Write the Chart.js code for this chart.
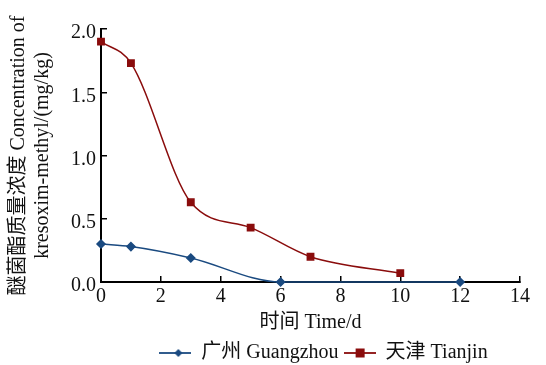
<!DOCTYPE html>
<html>
<head>
<meta charset="utf-8">
<script src="https://cdn.jsdelivr.net/npm/chart.js@4.4.0/dist/chart.umd.min.js"></script>
<style>
  html, body { margin: 0; padding: 0; background: #fff; }
  #wrap { width: 546px; height: 365px; position: relative; }
</style>
</head>
<body>
<div id="wrap"><canvas id="chart"></canvas></div>
<script>
const gzDays = [0, 1, 3, 6, 12];
const gzValues = [0.30, 0.28, 0.19, 0.0, 0.0];
const tjDays = [0, 1, 3, 5, 7, 10];
const tjValues = [1.90, 1.73, 0.63, 0.43, 0.20, 0.07];
const seriesNames = ['广州 Guangzhou', '天津 Tianjin'];

const blue = '#1a4a80';
const red = '#8a0c0c';
const serif = '"Liberation Serif", "Times New Roman", "Noto Sans CJK SC", serif';

// legend symbol: short line with marker in the middle
function legendIcon(color, style) {
  const c = document.createElement('canvas');
  c.width = 32; c.height = 12;
  const g = c.getContext('2d');
  g.strokeStyle = color;
  g.lineWidth = 1.8;
  g.beginPath(); g.moveTo(0, 6); g.lineTo(32, 6); g.stroke();
  g.fillStyle = color;
  if (style === 'rect') {
    g.fillRect(12, 1.5, 9, 9);
  } else {
    g.beginPath();
    g.moveTo(19, 2); g.lineTo(23, 6); g.lineTo(19, 10); g.lineTo(15, 6);
    g.closePath(); g.fill();
  }
  return c;
}

// move the bottom legend right and down, as in the original figure
const shiftLegend = {
  id: 'shiftLegend',
  afterLayout(chart) {
    chart.legend.left += 60;
    chart.legend.right += 60;
    chart.legend.top += 8;
    chart.legend.bottom += 8;
  }
};

const ctx = document.getElementById('chart').getContext('2d');
new Chart(ctx, {
  type: 'line',
  data: {
    datasets: [{
      label: seriesNames[0],
      data: gzDays.map((d, i) => ({ x: d, y: gzValues[i] })),
      borderColor: blue,
      backgroundColor: blue,
      borderWidth: 1.5,
      pointStyle: 'rectRot',
      pointRadius: 4,
      cubicInterpolationMode: 'monotone',
      clip: false
    }, {
      label: seriesNames[1],
      data: tjDays.map((d, i) => ({ x: d, y: tjValues[i] })),
      borderColor: red,
      backgroundColor: red,
      borderWidth: 1.5,
      pointStyle: 'rect',
      pointRadius: 4.5,
      cubicInterpolationMode: 'monotone',
      clip: false
    }]
  },
  plugins: [shiftLegend],
  options: {
    responsive: true,
    maintainAspectRatio: false,
    animation: false,
    layout: { padding: { left: 7, right: 26, top: 29, bottom: 0 } },
    plugins: {
      tooltip: { enabled: false },
      legend: {
        position: 'bottom',
        labels: {
          color: '#111',
          font: { family: serif, size: 20 },
          usePointStyle: true,
          pointStyleWidth: 32,
          padding: 5,
          generateLabels: function(chart) {
            return chart.data.datasets.map((ds, i) => ({
              text: ds.label,
              pointStyle: legendIcon(ds.borderColor, i === 0 ? 'rectRot' : 'rect'),
              fillStyle: ds.borderColor,
              strokeStyle: ds.borderColor,
              lineWidth: 0,
              fontColor: '#111',
              datasetIndex: i
            }));
          }
        }
      }
    },
    scales: {
      x: {
        type: 'linear',
        min: 0,
        max: 14,
        afterFit: s => { s.height = 48; },
        border: { display: true, color: '#000', width: 2 },
        grid: { display: true, drawOnChartArea: false, drawTicks: true, tickLength: -6, color: '#000', lineWidth: 1.5 },
        ticks: { stepSize: 2, color: '#111', padding: 9, font: { family: serif, size: 20 }, maxRotation: 0 },
        title: { display: true, text: '时间 Time/d', color: '#111', padding: { top: 0, bottom: -5 }, font: { family: serif, size: 20 } }
      },
      y: {
        min: 0,
        max: 2.0,
        afterFit: s => { s.width = 94; },
        border: { display: true, color: '#000', width: 2 },
        grid: { display: true, drawOnChartArea: false, drawTicks: true, tickLength: -6, color: '#000', lineWidth: 1.5 },
        ticks: { stepSize: 0.5, color: '#111', padding: 11, labelOffset: 4, font: { family: serif, size: 20 },
          callback: v => v.toFixed(1) },
        title: { display: true, text: ['醚菌酯质量浓度 Concentration of', 'kresoxim-methyl/(mg/kg)'], color: '#111',
          padding: { top: 0, bottom: 0 }, font: { family: serif, size: 20, lineHeight: 1.2 } }
      }
    }
  }
});
</script>
</body>
</html>
